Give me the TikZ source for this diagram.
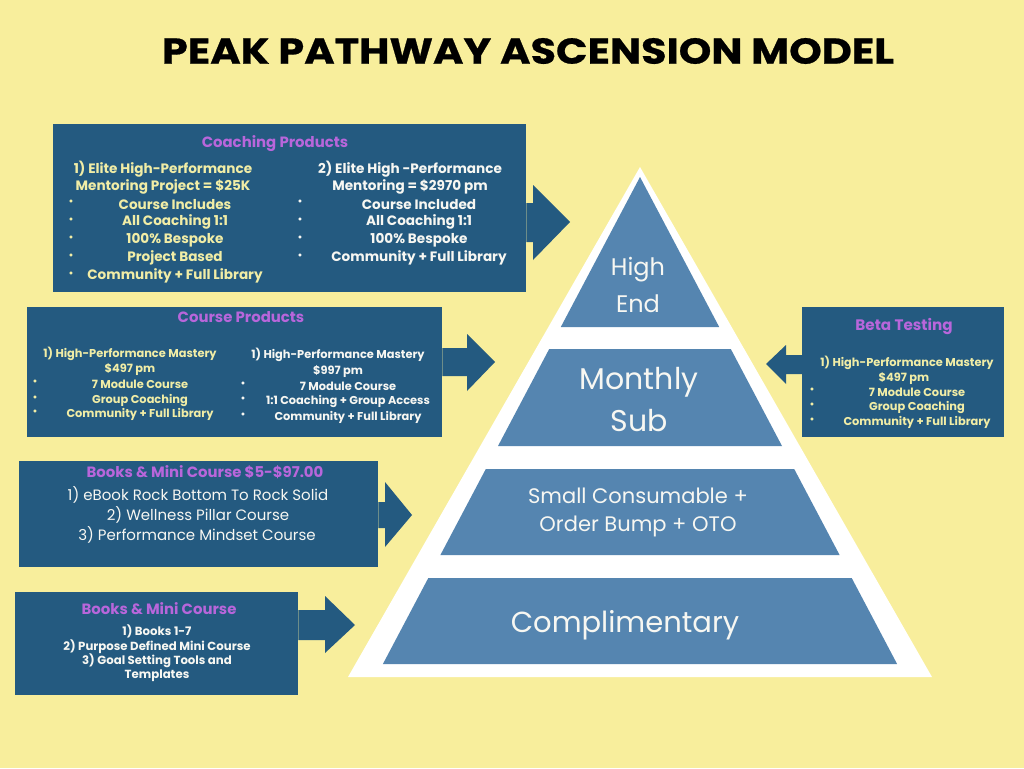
\documentclass[tikz,border=0pt]{standalone}
\usepackage{fontspec}
\setmainfont{Poppins}
\usetikzlibrary{calc}
\definecolor{bg}{HTML}{F8EE9C}
\definecolor{dark}{HTML}{245A80}
\definecolor{band}{HTML}{5585B0}
\definecolor{purp}{HTML}{B866DB}
\definecolor{yel}{HTML}{F1EDA6}
\definecolor{wht}{HTML}{F7F7F2}
\newcommand{\fs}[1]{\fontsize{#1}{#1}\selectfont}
\tikzset{
  box/.style={fill=dark, draw=none, anchor=north west, inner sep=0pt},
  blockarrow/.style={fill=dark, draw=none},
  band/.style={fill=band, draw=none},
  ttl/.style={text=purp, font=\bfseries\fs{14.9}, inner sep=0pt, yshift=-1.5pt},
  ytxt/.style={text=yel, font=\bfseries\fs{13.6}, inner sep=0pt, yshift=-1.2pt},
  wtxt/.style={text=wht, font=\bfseries\fs{13.6}, inner sep=0pt, yshift=-1.2pt},
  smalltxt/.style={font=\bfseries\fs{11.4}},
  bul/.style={font=\fs{12}, inner sep=0pt},
  lvl/.style={text=wht, align=center, inner sep=0pt, yshift=-2pt},
}
\begin{document}
\begin{tikzpicture}[x=1pt,y=-1pt]
\fill[bg] (0,0) rectangle (1024,768);
\useasboundingbox (0,0) rectangle (1024,768);

% title
\node[font=\bfseries\fs{36}\addfontfeatures{FakeBold=0.6}, text=black, inner sep=0pt] (title) at (528,51) {\scalebox{1.15}[1]{PEAK PATHWAY ASCENSION MODEL}};

% pyramid
\fill[white] (640,167) -- (932,677) -- (348,677) -- cycle;
\fill[band] (640,177) -- (719.2,327) -- (560.8,327) -- cycle;
\fill[band] (549.2,349) -- (730.8,349) -- (782,446) -- (498,446) -- cycle;
\fill[band] (485.8,469) -- (794.2,469) -- (839.6,555) -- (440.4,555) -- cycle;
\fill[band] (428.3,578) -- (851.7,578) -- (897.1,664) -- (382.9,664) -- cycle;
\node[lvl, font=\fs{24}] (high) at (638,268) {High};
\node[lvl, font=\fs{24}] (end) at (638,302) {End};
\node[lvl, font=\fs{30}] (monthly) at (639,380) {Monthly};
\node[lvl, font=\fs{30}] (sub) at (639,419) {Sub};
\node[lvl, font=\fs{21}] (small) at (638,494) {Small Consumable +};
\node[lvl, font=\fs{21}] (order) at (638,524) {Order Bump + OTO};
\node[lvl, font=\fs{29}] (compl) at (625,623) {Complimentary};

% boxes
\node[box, minimum width=473pt, minimum height=168pt] (coach) at (53,124) {};
\node[box, minimum width=415pt, minimum height=130pt] (course) at (27,307) {};
\node[box, minimum width=202pt, minimum height=130pt] (beta) at (802,307) {};
\node[box, minimum width=359pt, minimum height=106pt] (books1) at (19,461) {};
\node[box, minimum width=283pt, minimum height=103pt] (books2) at (15,592) {};

% block arrows
\fill[blockarrow] (coach.east |- 0,203) -- (533,203) -- (533,185) -- (570,222) -- (533,260) -- (533,242) -- (coach.east |- 0,242) -- cycle;
\fill[blockarrow] (course.east |- 0,348) -- (467,348) -- (467,334) -- (495,362) -- (467,391) -- (467,376) -- (course.east |- 0,376) -- cycle;
\fill[blockarrow] (beta.west |- 0,355) -- (786,355) -- (786,345) -- (766,364) -- (786,384) -- (786,374) -- (beta.west |- 0,374) -- cycle;
\fill[blockarrow] (books1.east |- 0,502) -- (385,502) -- (385,482) -- (412,515) -- (385,547) -- (385,528) -- (books1.east |- 0,528) -- cycle;
\fill[blockarrow] (books2.east |- 0,610) -- (325,610) -- (325,596) -- (355,625) -- (325,653) -- (325,640) -- (books2.east |- 0,640) -- cycle;

% coaching products
\node[ttl] (coachT) at (275,142) {Coaching Products};
\node[ytxt] (c1a) at (163,168) {1) Elite High-Performance};
\node[ytxt] (c1b) at (163,186) {Mentoring Project = \$25K};
\foreach \t/\y [count=\i] in {Course Includes/203, All Coaching 1:1/221, 100\% Bespoke/239, Project Based/257, Community + Full Library/275}{
  \node[ytxt] (c1i\i) at (175,\y) {\t};
  \node[bul, text=yel] (c1b\i) at (71,\y) {•};
}
\node[wtxt] (c2a) at (410,168) {2) Elite High -Performance};
\node[wtxt] (c2b) at (410,186) {Mentoring = \$2970 pm};
\foreach \t/\y [count=\i] in {Course Included/203, All Coaching 1:1/221, 100\% Bespoke/239, Community + Full Library/257}{
  \node[wtxt] (c2i\i) at (419,\y) {\t};
  \node[bul, text=wht] (c2b\i) at (300,\y) {•};
}

% course products
\node[ttl] (courseT) at (241,316) {Course Products};
\node[ytxt, smalltxt] (p1a) at (130,353) {1) High-Performance Mastery};
\node[ytxt, smalltxt] (p1b) at (130,368) {\$497 pm};
\foreach \t/\y [count=\i] in {7 Module Course/383, Group Coaching/399, Community + Full Library/413}{
  \node[ytxt, smalltxt] (p1i\i) at (140,\y) {\t};
  \node[bul, text=yel] (p1b\i) at (35,\y) {•};
}
\node[wtxt, smalltxt] (p2a) at (338,354) {1) High-Performance Mastery};
\node[wtxt, smalltxt] (p2b) at (338,370) {\$997 pm};
\foreach \t/\y [count=\i] in {7 Module Course/385, 1:1 Coaching + Group Access/400, Community + Full Library/416}{
  \node[wtxt, smalltxt] (p2i\i) at (348,\y) {\t};
  \node[bul, text=wht] (p2b\i) at (243,\y) {•};
}

% beta testing
\node[ttl, font=\bfseries\fs{15.2}] (betaT) at (904,325) {Beta Testing};
\node[ytxt, smalltxt] (b1a) at (907,362) {1) High-Performance Mastery};
\node[ytxt, smalltxt] (b1b) at (904,377) {\$497 pm};
\foreach \t/\y [count=\i] in {7 Module Course/391, Group Coaching/406, Community + Full Library/421}{
  \node[ytxt, smalltxt] (b1i\i) at (917,\y) {\t};
  \node[bul, text=yel] (b1b\i) at (812,\y) {•};
}

% books 1
\node[ttl] (books1T) at (205,471) {Books \& Mini Course \$5-\$97.00};
\node[wtxt, font=\fs{15}] (k1) at (198,494) {1) eBook Rock Bottom To Rock Solid};
\node[wtxt, font=\fs{15}] (k2) at (198,514) {2) Wellness Pillar Course};
\node[wtxt, font=\fs{15}] (k3) at (197,534) {3) Performance Mindset Course};

% books 2
\node[ttl] (books2T) at (159,607) {Books \& Mini Course};
\node[wtxt, font=\bfseries\fs{11.75}] (m1) at (157,630) {1) Books 1-7};
\node[wtxt, font=\bfseries\fs{11.75}] (m2) at (157,645) {2) Purpose Defined Mini Course};
\node[wtxt, font=\bfseries\fs{11.75}] (m3) at (157,660) {3) Goal Setting Tools and};
\node[wtxt, font=\bfseries\fs{11.75}] (m4) at (157,675) {Templates};
\end{tikzpicture}
\end{document}
